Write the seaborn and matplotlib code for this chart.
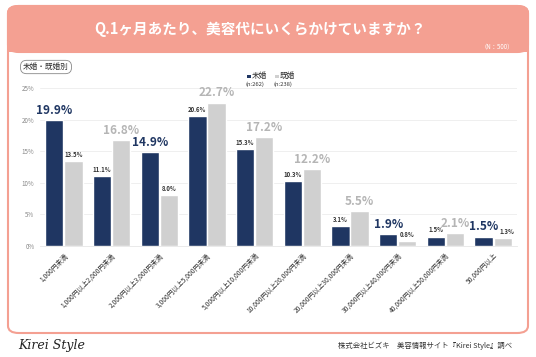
import matplotlib
matplotlib.use("Agg")
import matplotlib.pyplot as plt
import seaborn as sns
import pandas as pd
from matplotlib.patches import FancyBboxPatch, Rectangle

categories = ["1,000円未満", "1,000円以上2,000円未満", "2,000円以上3,000円未満",
              "3,000円以上5,000円未満", "5,000円以上10,000円未満", "10,000円以上20,000円未満",
              "20,000円以上30,000円未満", "30,000円以上40,000円未満", "40,000円以上50,000円未満",
              "50,000円以上"]
unmarried = [19.9, 11.1, 14.9, 20.6, 15.3, 10.3, 3.1, 1.9, 1.5, 1.5]
married = [13.5, 16.8, 8.0, 22.7, 17.2, 12.2, 5.5, 0.8, 2.1, 1.3]
series_names = ["未婚", "既婚"]
series_n = ["(n:262)", "(n:238)"]
yticks = [0, 5, 10, 15, 20, 25]

NAVY = "#1f3662"
GREY = "#d0d0d0"
GREY_LBL = "#b5b5b5"
PINK = "#f4a092"

sns.set_theme(style="white")
plt.rcParams['font.family'] = ['Noto Sans CJK JP', 'DejaVu Sans']

df = pd.DataFrame({
    "cat": categories * 2,
    "val": unmarried + married,
    "grp": [series_names[0]] * len(categories) + [series_names[1]] * len(categories),
})

fig = plt.figure(figsize=(5.36, 3.57), dpi=100)
W, H = 536, 357

# outer box
box = FancyBboxPatch((8 / W, 1 - 333 / H), 520 / W, (333 - 6) / H,
                     boxstyle="round,pad=0,rounding_size=0.02",
                     transform=fig.transFigure, facecolor="white",
                     edgecolor=PINK, linewidth=1.5, zorder=-2)
fig.patches.append(box)
hdr = FancyBboxPatch((8 / W, 1 - 52 / H), 520 / W, 46 / H,
                     boxstyle="round,pad=0,rounding_size=0.02",
                     transform=fig.transFigure, facecolor=PINK,
                     edgecolor=PINK, linewidth=1.5, zorder=1)
fig.patches.append(hdr)
fig.patches.append(Rectangle((8 / W, 1 - 52 / H), 520 / W, 15 / H,
                             transform=fig.transFigure, facecolor=PINK,
                             edgecolor="none", zorder=1))

fig.text(260 / W, 1 - 29 / H, "Q.1ヶ月あたり、美容代にいくらかけていますか？",
         ha="center", va="center", color="white", fontsize=10.5, fontweight="bold", zorder=3)
fig.text(514 / W, 1 - 46 / H, "（N：500）", ha="right", va="center",
         color="white", fontsize=4.5, zorder=3)

fig.text(46 / W, 1 - 67 / H, "未婚・既婚別", ha="center", va="center", fontsize=5.5,
         color="#333333",
         bbox=dict(boxstyle="round,pad=0.35,rounding_size=0.8", facecolor="white",
                   edgecolor="#888888", linewidth=0.6))

ax = fig.add_axes([40 / W, 1 - 246 / H, 477 / W, (246 - 88) / H])
ax.set_facecolor("none")
sns.barplot(data=df, x="cat", y="val", hue="grp", palette=[NAVY, GREY],
            width=0.8, gap=0.04, ax=ax, legend=False, saturation=1)
ax.set_ylim(0, 25)
ax.set_xlim(-0.5, len(categories) - 0.5)
ax.set_yticks(yticks)
ax.set_yticklabels([f"{v}%" for v in yticks], fontsize=4.5, color="#888888")
ax.set_xlabel("")
ax.set_ylabel("")
ax.set_xticks(range(len(categories)))
ax.set_xticklabels(categories, rotation=45, ha="right", rotation_mode="anchor",
                   fontsize=4.8, color="#333333")
ax.tick_params(axis="both", length=0, pad=4)
ax.grid(axis="y", color="#ececec", linewidth=0.6)
ax.set_axisbelow(True)
for s in ["top", "right", "left"]:
    ax.spines[s].set_visible(False)
ax.spines["bottom"].set_color("#e6e6e6")
ax.spines["bottom"].set_linewidth(0.6)

off = 0.2
for i, (u, m) in enumerate(zip(unmarried, married)):
    for j, v in enumerate((u, m)):
        xpos = i + (-off if j == 0 else off)
        big = v == max(u, m)
        if big:
            ax.text(xpos, v + 0.5, f"{v:.1f}%", ha="center", va="bottom",
                    fontsize=8.5, fontweight="bold",
                    color=NAVY if j == 0 else GREY_LBL)
        else:
            dx = 0.08 if (i == len(categories) - 1 and j == 1) else 0
            ax.text(xpos + dx, v + 0.5, f"{v:.1f}%", ha="center", va="bottom",
                    fontsize=4.3, fontweight="bold", color="#333333")

# legend
for k, (nm, nn, col) in enumerate(zip(series_names, series_n, [NAVY, GREY])):
    x0 = 247 + k * 28
    fig.patches.append(Rectangle((x0 / W, 1 - 78 / H), 3.5 / W, 3.5 / H,
                                 transform=fig.transFigure, facecolor=col,
                                 edgecolor="none", zorder=3))
    fig.text((x0 + 5) / W, 1 - 76 / H, nm, ha="left", va="center", fontsize=5.5, color="#333333")
    fig.text((x0 - 1) / W, 1 - 84.5 / H, nn, ha="left", va="center", fontsize=4.2, color="#333333")

fig.text(18 / W, 1 - 346 / H, "Kirei Style", ha="left", va="center", fontsize=9,
         family="DejaVu Serif", style="italic", color="#222222")
fig.text(512 / W, 1 - 346 / H, "株式会社ビズキ　美容情報サイト『Kirei Style』調べ",
         ha="right", va="center", fontsize=5.3, color="#333333")

fig.savefig("out.png", dpi=100)
